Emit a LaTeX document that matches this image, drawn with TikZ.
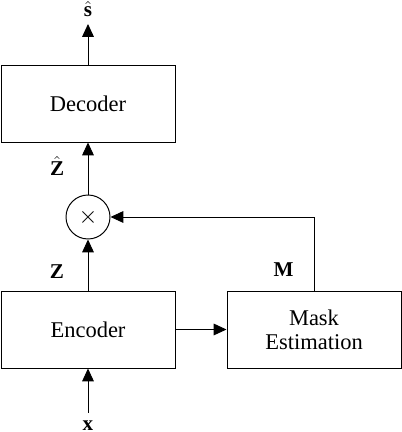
\documentclass[tikz,border=0pt]{standalone}
\usepackage{amsmath, amssymb}
\usepackage[no-math]{fontspec}
\setmainfont{Liberation Serif}
\usetikzlibrary{arrows.meta}

\begin{document}
\begin{tikzpicture}[
    font=\fontsize{16}{19}\selectfont,
    line width=0.7pt,
    >={Triangle[length=3.2mm, width=2.9mm]},
    blok/.style={draw, minimum width=4.35cm, minimum height=1.925cm, align=center},
    senyal/.style={font=\fontsize{15}{18}\selectfont\bfseries, inner sep=1pt}
]
\useasboundingbox (0,0) rectangle (10.05,10.8);

% ---- Blocs ----
\node[blok] (dec) at (2.2,8.2125) {Decoder};
\node[blok] (enc) at (2.2,2.5625) {Encoder};
\node[blok] (mask) at (7.85,2.5625) {Mask\\[-2pt]Estimation};
\node[draw, circle, minimum size=1.1cm, inner sep=0pt] (mul) at (2.2,5.375) {$\times$};

% ---- Senyals ----
\node[senyal, anchor=south, inner ysep=5pt] (shat) at (2.2,10.2) {$\hat{\text{s}}$};
\node[senyal, anchor=north, inner ysep=5pt] (xin) at (2.2,0.475) {x};
\node[senyal, anchor=base] (zlab) at (1.42,3.825) {Z};
\node[senyal, anchor=base] (mlab) at (7.09,3.875) {M};
\node[senyal, anchor=base] (zhat) at (1.43,6.4) {$\hat{\text{Z}}$};

% ---- Connexions ----
\draw[->] (xin) -- (enc);
\draw[->] (enc) -- (mul);
\draw[->] (enc) -- (mask);
\draw[->] (mask.north) |- (mul.east);
\draw[->] (mul) -- (dec);
\draw[->] (dec) -- (shat);

\end{tikzpicture}
\end{document}
